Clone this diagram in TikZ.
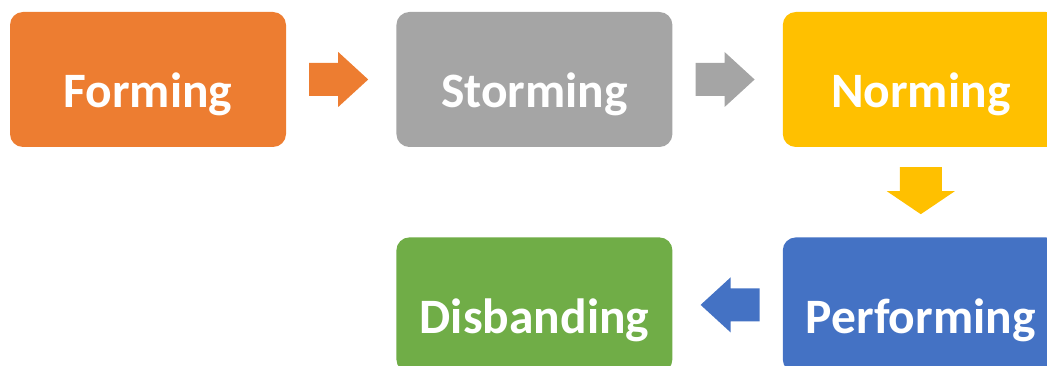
\documentclass[tikz,border=0pt]{standalone}
\usepackage{fontspec}
\setmainfont{Carlito}
\usetikzlibrary{positioning,calc}

\definecolor{formcol}{HTML}{ED7D31}
\definecolor{stormcol}{HTML}{A5A5A5}
\definecolor{normcol}{HTML}{FFC000}
\definecolor{perfcol}{HTML}{4472C4}
\definecolor{disbcol}{HTML}{70AD47}

\tikzset{
  stage/.style={rounded corners=13pt, minimum width=276pt, minimum height=135pt,
    inner sep=0pt, text height=57pt, text depth=0pt, text=white,
    font=\bfseries\fontsize{49.5}{52}\selectfont},
  blockarrow/.pic={\fill[pic actions] (-32,-16.5) -- (-3,-16.5) -- (-3,-27.5) -- (27,0)
    -- (-3,27.5) -- (-3,16.5) -- (-32,16.5) -- cycle;}
}

\begin{document}
\begin{tikzpicture}[x=1pt,y=-1pt]
\useasboundingbox (0,0) rectangle (1047,366);
\clip (0,0) rectangle (1047,366);

\node[stage,fill=formcol] (forming) at (148,79.5) {Forming};
\node[stage,fill=stormcol,right=110pt of forming] (storming) {Storming};
\node[stage,fill=normcol,right=110pt of storming] (norming) {Norming};
\node[stage,fill=perfcol,below=90pt of norming] (performing) {Performing};
\node[stage,fill=disbcol,left=110pt of performing] (disbanding) {Disbanding};

% arrows between the stages
\coordinate (fs) at ($(forming.east)!.5!(storming.west)$);
\coordinate (sn) at ($(storming.east)!.5!(norming.west)$);
\coordinate (np) at ($(norming.south)!.5!(performing.north)$);
\coordinate (pd) at ($(performing.west)!.5!(disbanding.east)$);

\pic[fill=formcol] at (fs) {blockarrow};
\pic[fill=stormcol] at (sn) {blockarrow};
\pic[fill=perfcol,rotate=180] at (pd) {blockarrow};
\fill[normcol] (np) ++(-21,-25) -- ++(42,0) -- ++(0,24) -- ++(13,0)
  -- ++(-34,23) -- ++(-34,-23) -- ++(13,0) -- cycle;
\end{tikzpicture}
\end{document}
